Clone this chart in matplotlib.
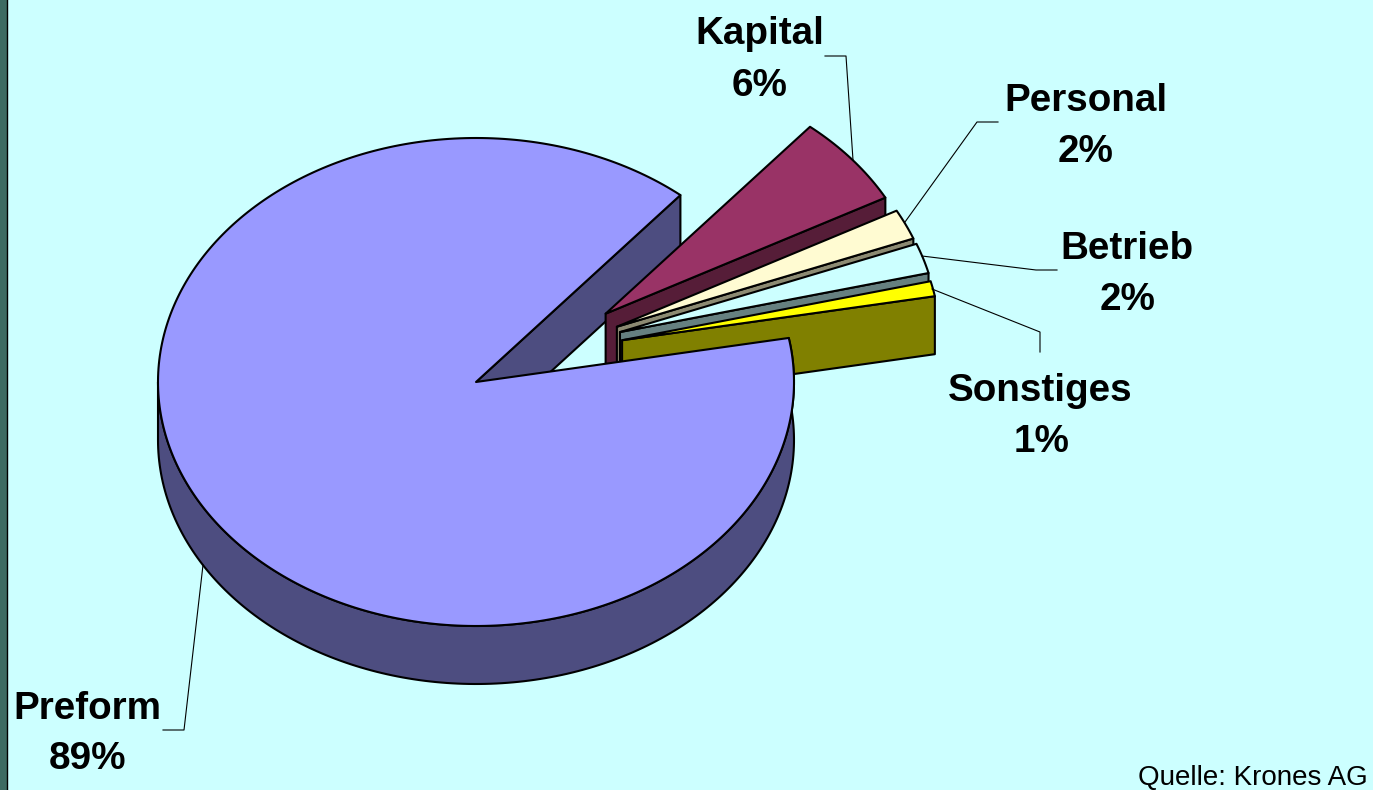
import numpy as np
import matplotlib
matplotlib.use("Agg")
import matplotlib.pyplot as plt

plt.rcParams['font.family'] = ['Liberation Sans', 'DejaVu Sans']

# clockwise from the start angle, Preform is the one that stays in place
labels = ["Kapital", "Personal", "Betrieb", "Sonstiges", "Preform"]
values = [6, 2, 2, 1, 89]

top_colors = ["#993366", "#FFFBD2", "#CCFFFF", "#FFFF00", "#9999FF"]
side_colors = ["#561D38", "#8C8A72", "#668080", "#808000", "#4D4D80"]

# explode per slice, as a fraction of the radius along x and y
explode_x = [0.526, 0.488, 0.475, 0.47, 0]
explode_y = [0.443, 0.54, 0.677, 0.81, 0]

label_pos = [(760, 34), (1086, 101), (1127, 249), (1040, 391), (87, 709)]
pct_pos = [(760, 86), (1086, 152), (1128, 300), (1042, 442), (87, 759)]
leaders = [
    [(825, 56), (846, 56), (853, 160)],
    [(998, 122), (977, 122), (905, 222)],
    [(1057, 270), (1036, 270), (922, 256)],
    [(1040, 352), (1040, 332), (932, 289)],
    [(163, 730), (184, 730), (203, 565)],
]

CX, CY = 476, 382
RX, RY = 318, 244
DEPTH = 58
START = 50.0
LW = 1.5

fig = plt.figure(figsize=(13.73, 7.9), dpi=100, facecolor="#CCFFFF")
ax = fig.add_axes([0, 0, 1, 1])
ax.set_xlim(0, 1373)
ax.set_ylim(790, 0)
ax.axis("off")


def rim(t0, t1, ox, oy, drop=0):
    t = np.radians(np.linspace(t0, t1, int(abs(t1 - t0)) + 2))
    return ox + RX * np.cos(t), oy - RY * np.sin(t) + drop


def poly(x, y, color, z):
    ax.fill(x, y, facecolor=color, edgecolor="black", linewidth=LW,
            joinstyle="round", zorder=z)


# angle ranges from the values
ends = START - np.cumsum(values) * 3.6
starts = np.concatenate([[START], ends[:-1]])

# Preform cut face on the back side
sx, sy = rim(START, START, CX, CY)
poly([CX, sx[0], sx[0], CX], [CY, sy[0], sy[0] + DEPTH, CY + DEPTH], side_colors[4], 1)

# exploded slices, back to front
for i in range(4):
    mid = np.radians((starts[i] + ends[i]) / 2)
    ox = CX + explode_x[i] * RX * np.cos(mid)
    oy = CY - explode_y[i] * RY * np.sin(mid)
    ex, ey = rim(ends[i], ends[i], ox, oy)
    poly([ox, ex[0], ex[0], ox], [oy, ey[0], ey[0] + DEPTH, oy + DEPTH], side_colors[i], 2 + i)
    rx_, ry_ = rim(starts[i], ends[i], ox, oy)
    poly(np.r_[ox, rx_], np.r_[oy, ry_], top_colors[i], 2 + i)

# Preform rim (front half, up to where the slice starts) and top
bx, by = rim(-180, starts[4], CX, CY)
poly(np.r_[bx, bx[::-1]], np.r_[by, by[::-1] + DEPTH], side_colors[4], 10)
tx, ty = rim(starts[4], ends[4], CX, CY)
poly(np.r_[CX, tx], np.r_[CY, ty], top_colors[4], 11)

for pts in leaders:
    xs, ys = zip(*pts)
    ax.plot(xs, ys, color="black", linewidth=0.8, zorder=12)

for lab, val, lp, pp in zip(labels, values, label_pos, pct_pos):
    ax.text(lp[0], lp[1], lab, fontsize=27.8, fontweight="bold", ha="center", va="center", zorder=20)
    ax.text(pp[0], pp[1], f"{val}%", fontsize=27.8, fontweight="bold", ha="center", va="center", zorder=20)

ax.text(1368, 778, "Quelle: Krones AG", fontsize=20, ha="right", va="center", zorder=20)

# dark strip at the left edge
ax.fill([0, 7, 7, 0], [0, 0, 790, 790], facecolor="#3D6B62", edgecolor="none", zorder=21)
ax.plot([7, 7], [0, 790], color="black", linewidth=1, zorder=21)

fig.savefig("out.png", dpi=100, facecolor=fig.get_facecolor())
